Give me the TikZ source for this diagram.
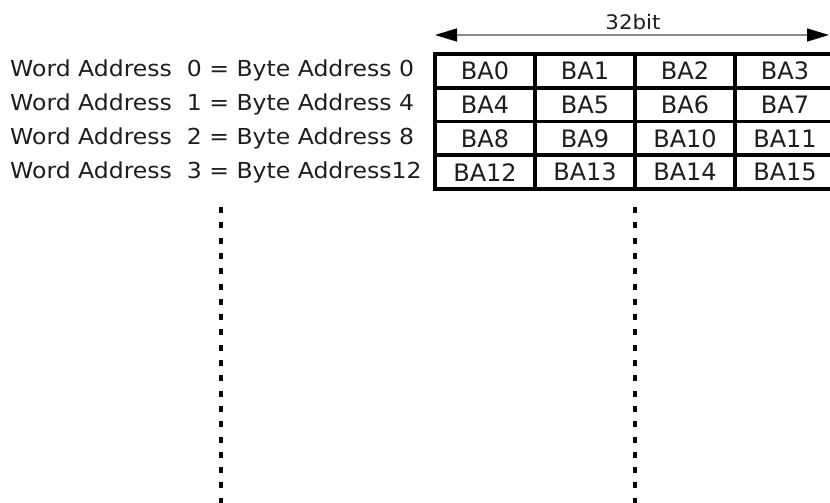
\documentclass[tikz,border=0pt]{standalone}
\usepackage{fontspec}
\setmainfont{DejaVu Sans}
\newfontfamily\widefont[FakeStretch=1.07]{DejaVu Sans}
\usetikzlibrary{arrows.meta,positioning}
\usepackage{xcolor}
\definecolor{ink}{HTML}{1E1E1E}
\definecolor{rule}{HTML}{8A8A8A}
\tikzset{
  cell/.style={draw=black, line width=3.5pt, minimum width=100pt, minimum height=33.75pt, inner sep=0pt, text=ink, font=\fontsize{24}{24}\selectfont},
  rowlabel/.style={anchor=west, inner sep=0pt, text=ink, font=\widefont\fontsize{22}{22}\selectfont},
  widtharrow/.style={{Triangle[length=22pt,width=13pt,black]}-{Triangle[length=22pt,width=13pt,black]}, line width=1.5pt, draw=rule},
  guide/.style={line width=4pt, dash pattern=on 6pt off 9.3pt, draw=black}
}

\begin{document}
\begin{tikzpicture}[x=1pt, y=-1pt]
  \useasboundingbox (0,0) rectangle (830,503);
  % width of one word
  \coordinate (bitL) at (435,35);
  \coordinate (bitR) at (829,35);
  \draw[widtharrow] (bitL) -- (bitR);
  \node[text=ink, font=\widefont\fontsize{20}{20}\selectfont] (bits) at (633,22) {32bit};
  % word rows
  \node[cell] (c0) at (485,70.9) {BA0};
  \node[cell] (c1) at (585,70.9) {BA1};
  \node[cell] (c2) at (685,70.9) {BA2};
  \node[cell] (c3) at (785,70.9) {BA3};
  \node[cell] (c4) at (485,104.6) {BA4};
  \node[cell] (c5) at (585,104.6) {BA5};
  \node[cell] (c6) at (685,104.6) {BA6};
  \node[cell] (c7) at (785,104.6) {BA7};
  \node[cell] (c8) at (485,138.4) {BA8};
  \node[cell] (c9) at (585,138.4) {BA9};
  \node[cell] (c10) at (685,138.4) {BA10};
  \node[cell] (c11) at (785,138.4) {BA11};
  \node[cell] (c12) at (485,172.1) {BA12};
  \node[cell] (c13) at (585,172.1) {BA13};
  \node[cell] (c14) at (685,172.1) {BA14};
  \node[cell] (c15) at (785,172.1) {BA15};
  % address labels
  \node[rowlabel] (w0) at (10,70.9) {Word Address\ \ 0 = Byte Address 0};
  \node[rowlabel] (w1) at (10,104.6) {Word Address\ \ 1 = Byte Address 4};
  \node[rowlabel] (w2) at (10,138.4) {Word Address\ \ 2 = Byte Address 8};
  \node[rowlabel] (w3) at (10,172.1) {Word Address\ \ 3 = Byte Address12};
  % dotted guides
  \coordinate (gL1) at (221,207);
  \coordinate (gL2) at (221,503);
  \coordinate (gR1) at (635,207);
  \coordinate (gR2) at (635,503);
  \draw[guide] (gL1) -- (gL2);
  \draw[guide] (gR1) -- (gR2);
\end{tikzpicture}
\end{document}
